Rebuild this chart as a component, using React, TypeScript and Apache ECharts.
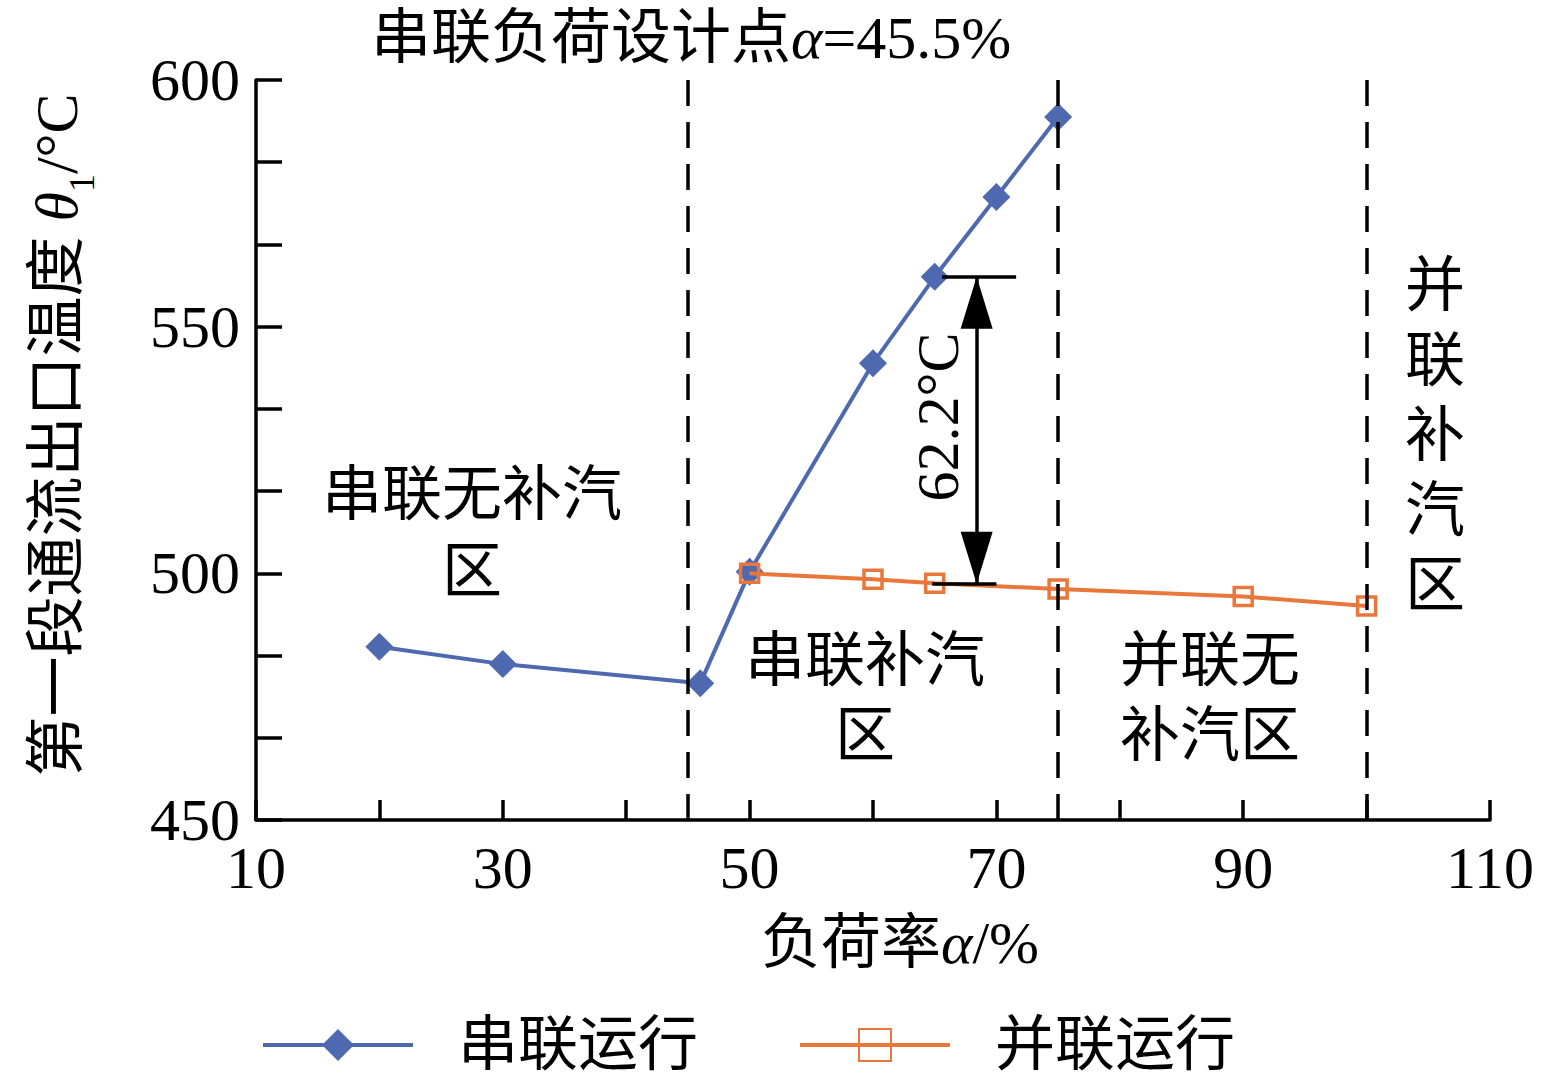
import React, { useEffect, useRef } from "react";
import * as echarts from "echarts";

const seriesX = [20, 30, 46, 50, 60, 65, 70, 75];
const seriesY = [485.1, 481.6, 477.7, 500.3, 542.6, 560.1, 576.3, 592.5];
const parallelX = [50, 60, 65, 75, 90, 100];
const parallelY = [500.0, 498.8, 498.0, 496.8, 495.3, 493.4];
const boundaryX = [45, 75, 100];
const arrowX = 68.4;
const arrowTop = 560.1;
const arrowBottom = 497.9;
const topBar = [65.6, 71.6];
const bottomBar = [64.8, 70.0];
const xTicks = { min: 10, max: 110, interval: 20 };
const yTicks = { min: 450, max: 600, interval: 50 };

const SERIF = "'Liberation Serif', 'Noto Sans CJK SC', serif";
const BLUE = "#4F69B1";
const ORANGE = "#E9773A";
const FS = 60;

const regionLabels: { lines: string[]; x: number; y: number; lh: number }[] = [
  { lines: ["串联无补汽", "区"], x: 472, y: 495, lh: 77 },
  { lines: ["串联补汽", "区"], x: 865, y: 661, lh: 75 },
  { lines: ["并联无", "补汽区"], x: 1210, y: 661, lh: 75 },
  { lines: ["并", "联", "补", "汽", "区"], x: 1435, y: 286, lh: 75 },
];

export default function App() {
  const ref = useRef<HTMLDivElement>(null);
  useEffect(() => {
    if (!ref.current) return;
    const chart = echarts.init(ref.current, undefined, { renderer: "svg" });
    const rich = {
      c: { fontFamily: SERIF, fontSize: FS, fontWeight: "normal", color: "#000", lineHeight: 62 },
      i: { fontFamily: SERIF, fontStyle: "italic", fontWeight: "normal", fontSize: FS, color: "#000", lineHeight: 62 },
      n: { fontFamily: SERIF, fontSize: FS, fontWeight: "normal", color: "#000", lineHeight: 62 },
      s: { fontFamily: SERIF, fontSize: 36, fontWeight: "normal", color: "#000", verticalAlign: "bottom", lineHeight: 62, padding: [0, 0, -12, 0] },
    };
    const graphics: any[] = [];
    regionLabels.forEach((r) => {
      r.lines.forEach((t, k) => {
        graphics.push({
          type: "text",
          x: r.x,
          y: r.y + k * r.lh,
          style: { text: t, fontFamily: SERIF, fontSize: FS, lineHeight: FS, align: "center", verticalAlign: "middle", fill: "#000" },
        });
      });
    });
    graphics.push({
      type: "text",
      x: 938,
      y: 417,
      rotation: Math.PI / 2,
      style: { text: "62.2°C", fontFamily: SERIF, fontSize: FS, align: "center", verticalAlign: "middle", fill: "#000" },
    });
    const option: any = {
      animation: false,
      backgroundColor: "#fff",
      title: {
        text: "{c|串联负荷设计点}{i|α}{n|=45.5%}",
        left: 366,
        top: 2,
        textStyle: { rich, fontWeight: "normal" },
      },
      grid: { left: 256, right: 73, top: 80, bottom: 261, containLabel: false },
      xAxis: {
        type: "value",
        min: xTicks.min,
        max: xTicks.max,
        interval: xTicks.interval,
        name: "{c|负荷率}{i|α}{n|/%}",
        nameLocation: "middle",
        nameGap: 92,
        nameTextStyle: { rich, padding: [0, 0, 0, 54] },
        axisLine: { lineStyle: { color: "#000", width: 3.5 } },
        axisTick: { inside: true, length: 20, lineStyle: { color: "#000", width: 3.5 } },
        minorTick: { show: true, splitNumber: 2, length: 20, lineStyle: { color: "#000", width: 3.5 } },
        axisLabel: { fontFamily: SERIF, fontSize: FS, color: "#000", margin: 18 },
        splitLine: { show: false },
      },
      yAxis: {
        type: "value",
        min: yTicks.min,
        max: yTicks.max,
        interval: yTicks.interval,
        name: "{c|第一段通流出口温度 }{i|θ}{s|1}{n|/°C}",
        nameLocation: "middle",
        nameRotate: 90,
        nameGap: 168,
        nameTextStyle: { rich, padding: [0, 0, 0, 30] },
        axisLine: { show: true, lineStyle: { color: "#000", width: 3.5 } },
        axisTick: { show: true, inside: true, length: 26, lineStyle: { color: "#000", width: 3.5 } },
        minorTick: { show: true, splitNumber: 3, length: 26, lineStyle: { color: "#000", width: 3.5 } },
        axisLabel: { fontFamily: SERIF, fontSize: FS, color: "#000", margin: 16 },
        splitLine: { show: false },
      },
      legend: {
        left: 256,
        top: 1010,
        itemWidth: 150,
        itemHeight: 40,
        itemGap: 100,
        lineStyle: { width: 4 },
        textStyle: { fontFamily: SERIF, fontSize: FS, lineHeight: FS, color: "#000", padding: [0, 0, 0, 40] },
        data: ["串联运行", "并联运行"],
      },
      series: [
        {
          name: "串联运行",
          type: "line",
          data: seriesX.map((x, i) => [x, seriesY[i]]),
          symbol: "diamond",
          symbolSize: [28, 28],
          lineStyle: { color: BLUE, width: 4 },
          itemStyle: { color: BLUE },
          z: 3,
          markLine: {
            silent: true,
            symbol: "none",
            label: { show: false },
            lineStyle: { color: "#000", width: 3.5, type: [26, 16] },
            data: boundaryX.map((x) => ({ xAxis: x })),
          },
        },
        {
          name: "并联运行",
          type: "line",
          data: parallelX.map((x, i) => [x, parallelY[i]]),
          symbol: "rect",
          symbolSize: 18,
          lineStyle: { color: ORANGE, width: 4 },
          itemStyle: { color: "rgba(255,255,255,0)", borderColor: ORANGE, borderWidth: 3.5 },
          z: 4,
          markLine: {
            silent: true,
            label: { show: false },
            symbol: "none",
            lineStyle: { color: "#000", width: 3.5, type: "solid" },
            data: [
              [
                { coord: [arrowX, arrowTop], symbol: "triangle", symbolSize: [32, 52], symbolOffset: [0, "50%"] },
                { coord: [arrowX, arrowBottom], symbol: "triangle", symbolSize: [32, 52], symbolOffset: [0, "50%"] },
              ],
              [
                { coord: [topBar[0], arrowTop], symbol: "none" },
                { coord: [topBar[1], arrowTop], symbol: "none" },
              ],
              [
                { coord: [bottomBar[0], arrowBottom], symbol: "none" },
                { coord: [bottomBar[1], arrowBottom], symbol: "none" },
              ],
            ],
          },
        },
      ],
      graphic: graphics,
    };
    chart.setOption(option);
    return () => chart.dispose();
  }, []);
  return <div ref={ref} style={{ position: "fixed", left: 0, top: 0, width: 1563, height: 1081 }} />;
}
